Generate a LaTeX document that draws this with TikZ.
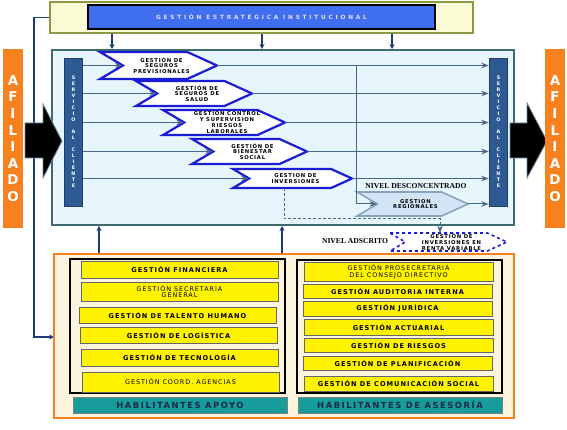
\documentclass[tikz,border=0pt]{standalone}
\usepackage{fontspec}
\setmainfont{DejaVu Sans}
\newfontfamily\boxfont{DejaVu Sans}[LetterSpace=15]
\newfontfamily\chevfont{DejaVu Sans}[LetterSpace=14]
\newfontfamily\stratfont{DejaVu Sans}[LetterSpace=48]
\newfontfamily\habfont{DejaVu Sans}[LetterSpace=18]
\newfontfamily\nivelfont{Liberation Serif}
\usetikzlibrary{arrows.meta}

\definecolor{marcoolivo}{HTML}{8C9A48}
\definecolor{fondocrema}{HTML}{FAFAD4}
\definecolor{azulrey}{HTML}{3F6FEE}
\definecolor{celeste}{HTML}{E6F6FC}
\definecolor{tealborde}{HTML}{3D6B72}
\definecolor{azulbarra}{HTML}{2D5A93}
\definecolor{naranja}{HTML}{F7801F}
\definecolor{azulchev}{HTML}{1C1CD8}
\definecolor{pizarra}{HTML}{4A6685}
\definecolor{marino}{HTML}{1F3A78}
\definecolor{amarillo}{HTML}{FFF200}
\definecolor{crema}{HTML}{FDF4DE}
\definecolor{verdeazul}{HTML}{189B9B}
\definecolor{textohab}{HTML}{1B2A4A}
\definecolor{regfill}{HTML}{D3E5F5}
\definecolor{regborde}{HTML}{87A3BD}

% proceso en flecha: [estilo] nombre, izq, arriba, der, abajo, texto
\newcommand{\procchev}[7][chevbox]{%
  \pgfmathsetmacro{\chh}{#6-#4}
  \draw[#1] (#3,#4) -- ({#5-1.1*\chh},#4) -- (#5,{(#4+#6)/2})
    -- ({#5-1.1*\chh},#6) -- (#3,#6) -- ({#3+0.85*\chh},{(#4+#6)/2}) -- cycle;
  \coordinate (#2-in) at ({#3+0.85*\chh},{(#4+#6)/2});
  \coordinate (#2-out) at (#5,{(#4+#6)/2});
  \node[chevtext] (#2) at ({(#3+#5)/2+3},{(#4+#6)/2}) {#7};}

\begin{document}
\begin{tikzpicture}[>=Stealth, x=1pt, y=-1pt,
  chevbox/.style={draw=azulchev, line width=2.2pt, fill=white, line join=miter},
  regbox/.style={draw=regborde, line width=1.6pt, fill=regfill},
  rentabox/.style={draw=azulchev, line width=1.6pt, dashed, fill=white},
  chevtext/.style={font=\chevfont\bfseries\fontsize{5.3}{5.8}\selectfont, align=center, inner sep=0pt},
  flow/.style={->, line width=1pt, pizarra, shorten >=0.5pt},
  navyarrow/.style={-{Stealth[length=5pt,width=5pt]}, line width=1.8pt, marino},
  scbar/.style={fill=azulbarra, draw=azulbarra!70!black, line width=0.6pt, minimum width=18pt,
    minimum height=148pt, inner sep=0pt, text=white, align=center,
    font=\bfseries\fontsize{4.8}{6}\selectfont},
  afil/.style={fill=naranja, minimum width=20pt, minimum height=179pt, inner sep=0pt,
    text=white, align=center, font=\bfseries\fontsize{13.5}{16.6}\selectfont},
  yellowbox/.style={fill=amarillo, draw=black!60, line width=0.9pt, inner sep=0pt, align=center,
    font=\boxfont\bfseries\fontsize{6.6}{7.2}\selectfont},
  habbox/.style={fill=verdeazul, draw=black!50, line width=0.8pt, inner sep=0pt, text=textohab,
    font=\habfont\bfseries\fontsize{8.4}{9}\selectfont},
  nivel/.style={font=\nivelfont\bfseries\fontsize{7.6}{8}\selectfont, inner sep=0pt}
]

\useasboundingbox[fill=white] (0,0) rectangle (567,430);

% Conector lateral hacia habilitantes
\draw[-{Stealth[length=5pt,width=5pt]}, line width=1.6pt, marino]
  (50,17.5) -- (34,17.5) -- (34,337) -- (54,337);

% Gestión estratégica
\node[fill=fondocrema, draw=marcoolivo, line width=2pt, minimum width=423pt,
  minimum height=31pt, inner sep=0pt] (stratframe) at (261.5,17.5) {};
\node[fill=azulrey, draw=black, line width=2pt, minimum width=347pt, minimum height=24pt,
  inner sep=0pt, text=white!88!blue, font=\stratfont\bfseries\fontsize{5.8}{6}\selectfont]
  (estrategica) at (261.5,17) {GESTIÓN ESTRATÉGICA INSTITUCIONAL};

% Procesos misionales
\node[fill=celeste, draw=tealborde, line width=2pt, minimum width=462pt,
  minimum height=175pt, inner sep=0pt] (misional) at (283,137.5) {};

\foreach \x [count=\i] in {112,262,392} {
  \coordinate (d\i) at (\x,0);
  \draw[navyarrow] (stratframe.south -| d\i) -- (misional.north -| d\i);
}

\node[scbar] (scL) at (73.5,132)
  {S\\E\\R\\V\\I\\C\\I\\O\\[6pt]A\\L\\[6pt]C\\L\\I\\E\\N\\T\\E};
\node[scbar] (scR) at (498.5,132)
  {S\\E\\R\\V\\I\\C\\I\\O\\[6pt]A\\L\\[6pt]C\\L\\I\\E\\N\\T\\E};

\procchev{segprev}{100}{52}{217}{79}{GESTIÓN DE\\SEGUROS\\PREVISIONALES}
\procchev{segsalud}{136}{81}{252}{106}{GESTIÓN DE\\SEGUROS DE\\SALUD}
\procchev{riesgos}{163}{110}{285}{135}{GESTION CONTROL\\Y SUPERVISION\\RIESGOS\\LABORALES}
\procchev{bienestar}{192}{139}{307}{164}{GESTIÓN DE\\BIENESTAR\\SOCIAL}
\procchev{inversiones}{233}{169}{352}{188}{GESTION DE\\INVERSIONES}
\procchev[regbox]{regionales}{357}{192}{468}{216}{GESTION\\REGIONALES}
\procchev[rentabox]{renta}{390}{233}{507}{251}{GESTIÓN DE\\INVERSIONES EN\\RENTA VARIABLE}

\foreach \c in {segprev,segsalud,riesgos,bienestar,inversiones} {
  \draw[flow] (scL.east |- \c-in) -- (\c-in);
  \draw[flow] (\c-out) -- (\c-out -| scR.west);
}

% Nivel desconcentrado
\coordinate (branch) at (356,65.5);
\draw[flow] (branch) |- (regionales-in);
\draw[flow] (regionales-out) -- (regionales-out -| scR.west);
\node[nivel] (desconc) at (416,186) {NIVEL DESCONCENTRADO};

% Nivel adscrito
\coordinate (invdrop) at (284,188);
\coordinate (rentatop) at (440,233);
\draw[->, densely dashed, line width=1pt, pizarra] (invdrop) -- ++(0,31) -| (rentatop);
\node[nivel] (adscrito) at (355,241) {NIVEL ADSCRITO};

% Flechas del afiliado
\draw[fill=black, draw=pizarra!80, line width=0.8pt]
  (25,123) -- (43,123) -- (43,104) -- (62,141) -- (43,178) -- (43,158) -- (25,158) -- cycle;
\draw[fill=black, draw=pizarra!80, line width=0.8pt]
  (510,123) -- (527,123) -- (527,103) -- (547,141) -- (527,178) -- (527,158) -- (510,158) -- cycle;
\node[afil] (afilL) at (13,138.5) {A\\F\\I\\L\\I\\A\\D\\O};
\node[afil] (afilR) at (555,138.5) {A\\F\\I\\L\\I\\A\\D\\O};

% Procesos habilitantes
\node[fill=crema, draw=naranja, line width=2pt, minimum width=460pt, minimum height=164pt,
  inner sep=0pt] (soporte) at (284,336) {};
\coordinate (u1) at (99,0);
\coordinate (u2) at (282,0);
\draw[navyarrow] (soporte.north -| u1) -- (misional.south -| u1);
\draw[navyarrow] (soporte.north -| u2) -- (misional.south -| u2);

\node[fill=crema, draw=black, line width=1.2pt, minimum width=215pt, minimum height=134pt,
  inner sep=0pt] (apoyo) at (177.5,326) {};
\node[fill=crema, draw=black, line width=1.2pt, minimum width=205pt, minimum height=133pt,
  inner sep=0pt] (asesoria) at (399.5,326.5) {};

\node[yellowbox, minimum width=197pt, minimum height=17pt] (financiera) at (179.5,269.5) {GESTIÓN FINANCIERA};
\node[yellowbox, minimum width=197pt, minimum height=19pt, font=\boxfont\fontsize{6.4}{6.6}\selectfont] (secretaria) at (179.5,291.5) {GESTIÓN SECRETARIA\\GENERAL};
\node[yellowbox, minimum width=197pt, minimum height=16pt] (talento) at (177.5,315) {GESTIÓN DE TALENTO HUMANO};
\node[yellowbox, minimum width=197pt, minimum height=16pt] (logistica) at (178.5,335) {GESTIÓN DE LOGÍSTICA};
\node[yellowbox, minimum width=197pt, minimum height=17pt] (tecnologia) at (179.5,357.5) {GESTIÓN DE TECNOLOGÍA};
\node[yellowbox, minimum width=197pt, minimum height=20pt, font=\boxfont\fontsize{6.4}{6.6}\selectfont] (agencias) at (180.5,382) {GESTIÓN COORD. AGENCIAS};
\node[habbox, minimum width=214pt, minimum height=16pt] (habapoyo) at (180,405) {HABILITANTES APOYO};

\node[yellowbox, minimum width=189pt, minimum height=19pt, font=\boxfont\fontsize{6.4}{6.6}\selectfont] (prosecretaria) at (398.5,271.5) {GESTIÓN PROSECRETARIA\\DEL CONSEJO DIRECTIVO};
\node[yellowbox, minimum width=189pt, minimum height=14pt] (auditoria) at (397.5,291) {GESTIÓN AUDITORIA INTERNA};
\node[yellowbox, minimum width=189pt, minimum height=15pt] (juridica) at (397.5,308.5) {GESTIÓN JURÍDICA};
\node[yellowbox, minimum width=189pt, minimum height=16pt] (actuarial) at (398.5,327) {GESTIÓN ACTUARIAL};
\node[yellowbox, minimum width=189pt, minimum height=14pt] (riesgosh) at (398.5,345) {GESTIÓN DE RIESGOS};
\node[yellowbox, minimum width=189pt, minimum height=14pt] (planificacion) at (397.5,363) {GESTIÓN DE PLANIFICACIÓN};
\node[yellowbox, minimum width=189pt, minimum height=15pt] (comunicacion) at (398.5,383.5) {GESTIÓN DE COMUNICACIÓN SOCIAL};
\node[habbox, minimum width=204pt, minimum height=16pt] (habasesoria) at (400,405) {HABILITANTES DE ASESORÍA};

\end{tikzpicture}
\end{document}
